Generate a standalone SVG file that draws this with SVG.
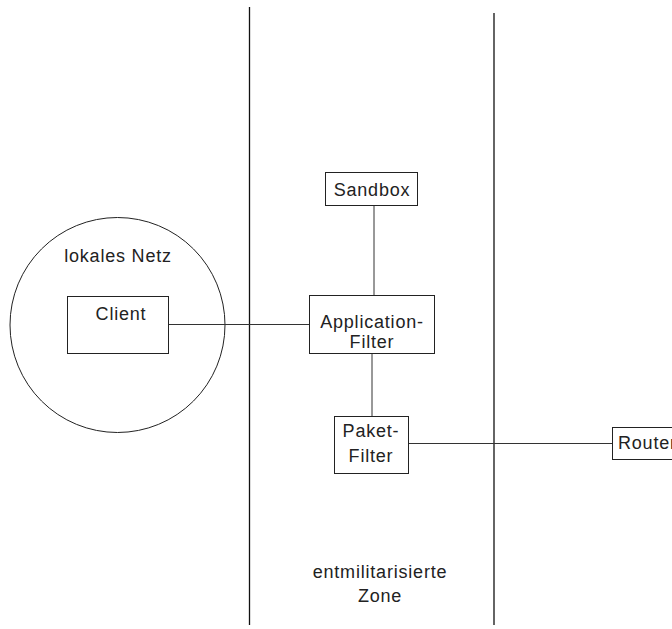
<svg xmlns="http://www.w3.org/2000/svg" width="672" height="629" viewBox="0 0 672 629">
  <style>
    .zone { stroke: #111; stroke-width: 1.3; fill: none; }
    .box { fill: #fff; stroke: #222; stroke-width: 1; }
    .link { stroke: #333; stroke-width: 1; fill: none; }
    text { font-family: "Liberation Sans", Arial, sans-serif; font-size: 18px; fill: #222; letter-spacing: 0.8px; text-anchor: middle; }
  </style>
  <rect width="672" height="629" fill="#fff"/>

  <!-- zone boundaries -->
  <g id="zones">
    <line class="zone" x1="249.5" y1="7" x2="249.5" y2="625"/>
    <line class="zone" x1="494" y1="13" x2="494" y2="625"/>
  </g>

  <!-- local network -->
  <g id="lan">
    <circle cx="117.5" cy="325" r="107.5" fill="none" stroke="#222" stroke-width="1"/>
    <text x="118" y="262">lokales Netz</text>
  </g>

  <!-- connectors -->
  <g id="connectors">
    <line class="link" x1="168" y1="324.5" x2="309" y2="324.5"/>
    <line class="link" x1="374" y1="205" x2="374" y2="295"/>
    <line class="link" x1="372" y1="353" x2="372" y2="416"/>
    <line class="link" x1="408" y1="443.5" x2="612" y2="443.5"/>
  </g>

  <g id="client">
    <rect class="box" x="67.5" y="296.5" width="101" height="57"/>
    <text x="121" y="320">Client</text>
  </g>

  <g id="sandbox">
    <rect class="box" x="325.5" y="172.5" width="92" height="33"/>
    <text x="372" y="196">Sandbox</text>
  </g>

  <g id="application-filter">
    <rect class="box" x="309.5" y="295.5" width="125" height="58"/>
    <text x="372" y="328">Application-</text>
    <text x="372" y="348">Filter</text>
  </g>

  <g id="paket-filter">
    <rect class="box" x="334.5" y="416.5" width="74" height="57"/>
    <text x="371" y="437">Paket-</text>
    <text x="371" y="462">Filter</text>
  </g>

  <g id="router">
    <rect class="box" x="612.5" y="427.5" width="70" height="32"/>
    <text x="618" y="449" style="text-anchor:start">Router</text>
  </g>

  <g id="dmz-label">
    <text x="380" y="578">entmilitarisierte</text>
    <text x="380" y="602">Zone</text>
  </g>
</svg>
